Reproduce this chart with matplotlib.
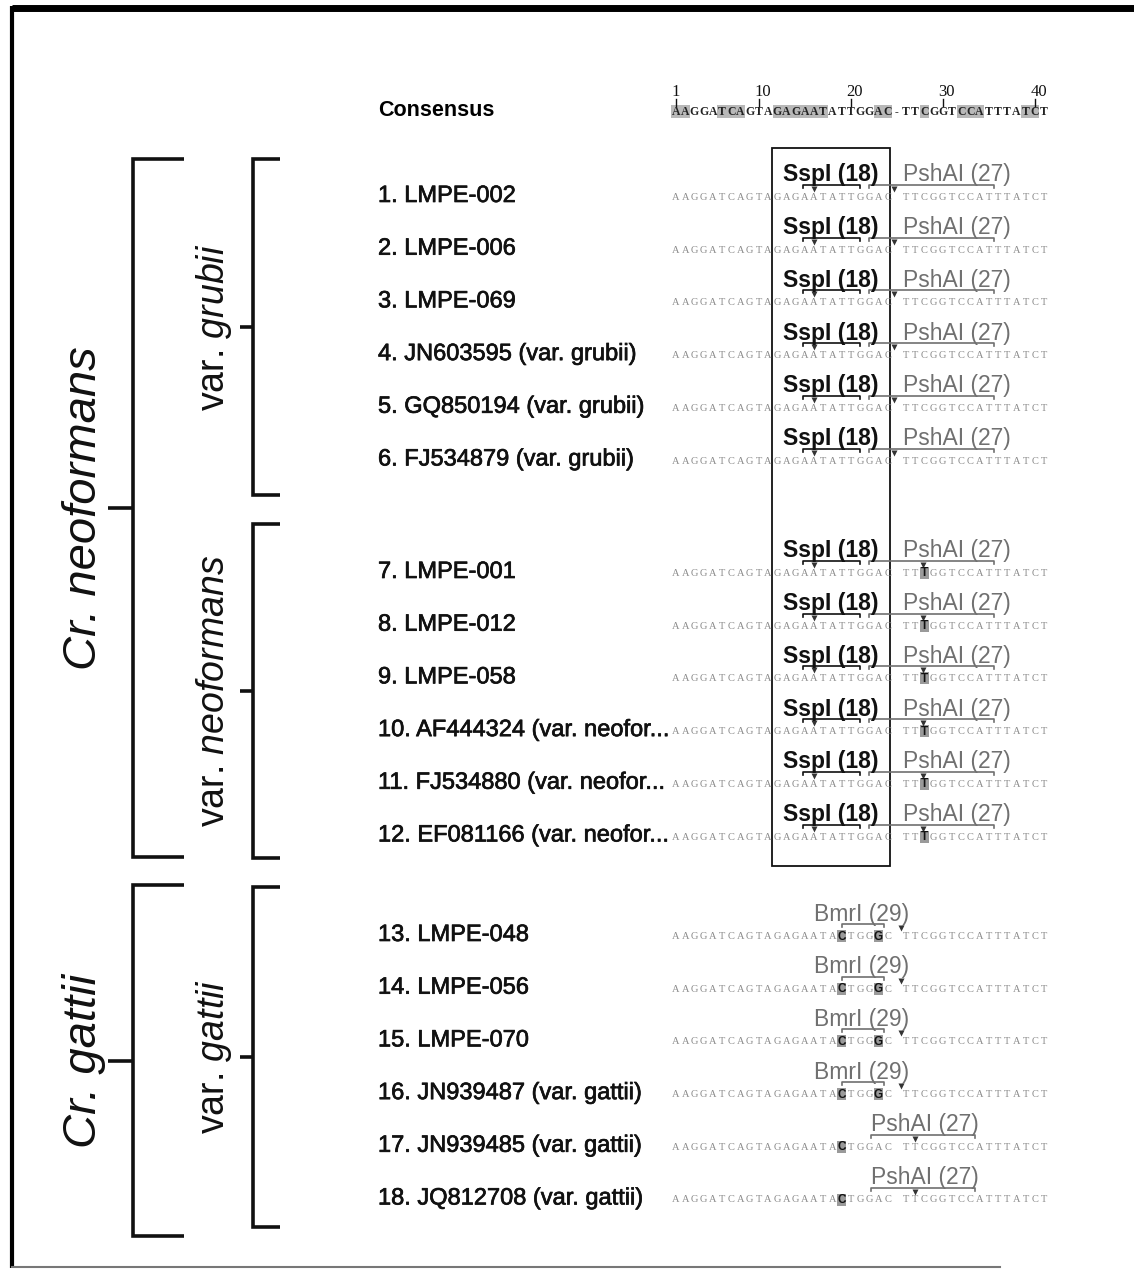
import matplotlib.pyplot as plt
import matplotlib.patheffects as pe
from matplotlib.patches import Rectangle

plt.rcParams['font.family'] = ['Liberation Sans', 'DejaVu Sans']
plt.rcParams['mathtext.fontset'] = 'custom'
plt.rcParams['mathtext.rm'] = 'Liberation Sans'
plt.rcParams['mathtext.it'] = 'Liberation Sans:italic'

# ---- data ----
consensus = "AAGGATCAGTAGAGAATATTGGAC-TTCGGTCCATTTATCT"
ruler_pos = [1, 10, 20, 30, 40]
cons_shaded = [0, 1, 5, 6, 7, 11, 12, 13, 14, 15, 16, 22, 23, 27, 31, 32, 33, 38, 39]

row_labels = ["1. LMPE-002", "2. LMPE-006", "3. LMPE-069",
              "4. JN603595 (var. grubii)", "5. GQ850194 (var. grubii)",
              "6. FJ534879 (var. grubii)",
              "7. LMPE-001", "8. LMPE-012", "9. LMPE-058",
              "10. AF444324 (var. neofor...", "11. FJ534880 (var. neofor...",
              "12. EF081166 (var. neofor...",
              "13. LMPE-048", "14. LMPE-056", "15. LMPE-070",
              "16. JN939487 (var. gattii)", "17. JN939485 (var. gattii)",
              "18. JQ812708 (var. gattii)"]
row_group = [0] * 6 + [1] * 6 + [2] * 6
# variant bases (index, base) highlighted in each row
row_variants = [[]] * 6 + [[(27, 'T')]] * 6 + [[(18, 'C'), (22, 'G')]] * 4 + [[(18, 'C')]] * 2
# enzyme sites: (label, bold, label centre idx, bracket start, bracket end) + cut idx
sspi = ("SspI (18)", True, 16.8, 13.8, 20.0)
pshai_a = ("PshAI (27)", False, 30.5, 21.0, 34.6)
bmri = ("BmrI (29)", False, 20.2, 18.0, 22.6)
pshai_b = ("PshAI (27)", False, 27.0, 21.2, 32.5)
row_sites = ([[sspi + (15.0,), pshai_a + (23.7,)]] * 6
             + [[sspi + (15.0,), pshai_a + (26.8,)]] * 6
             + [[bmri + (24.5,)]] * 4 + [[pshai_b + (26.0,)]] * 2)

species = [("Cr. neoformans", 159, 857), ("Cr. gattii", 885, 1236)]
varieties = [(r"var. $\mathit{grubii}$", 159, 495), (r"var. $\mathit{neoformans}$", 524, 858),
             (r"var. $\mathit{gattii}$", 887, 1227)]

# ---- layout ----
group_top = [196, 572, 935]
row_step = 52.7
x0, cw = 676, 9.2


def cx(i):
    return x0 + i * cw


thick = [pe.withStroke(linewidth=0.5, foreground='#111')]

fig = plt.figure(figsize=(11.34, 12.70), dpi=100)
ax = fig.add_axes([0, 0, 1, 1])
ax.set_xlim(0, 1134)
ax.set_ylim(1270, 0)
ax.axis('off')

# frame
ax.plot([12, 1134], [8, 8], color='black', lw=5, solid_capstyle='butt')
ax.plot([12, 12], [6, 1268], color='black', lw=3, solid_capstyle='butt')
ax.plot([12, 1000], [1267, 1267], color='#777777', lw=1.5)

# ruler + consensus
for p in ruler_pos:
    ax.text(cx(p - 1) + (4 if p > 1 else 0), 92, str(p), ha='center', va='center',
            fontsize=12, family='Liberation Serif', color='#111')
    ax.plot([cx(p - 1), cx(p - 1)], [99, 106], color='#111', lw=1)
ax.text(378, 111, "Consensus", ha='left', va='center', fontsize=15.5, fontweight='bold')
for i, ch in enumerate(consensus):
    if i in cons_shaded:
        ax.add_patch(Rectangle((cx(i) - cw / 2, 105), cw, 13, color='#b8b8b8', lw=0))
    ax.text(cx(i), 112, ch, ha='center', va='center', fontsize=8.5,
            family='Liberation Serif', fontweight='bold', color='#222')

# rows
for r, lab in enumerate(row_labels):
    g = row_group[r]
    y = group_top[g] + (r - 6 * g) * row_step
    ax.text(378, y, lab, ha='left', va='center', fontsize=17, color='#111',
            path_effects=thick)
    seq = list(consensus.replace('-', ' '))
    var_idx = []
    for i, b in row_variants[r]:
        seq[i] = b
        var_idx.append(i)
    for i, ch in enumerate(seq):
        if i in var_idx:
            ax.add_patch(Rectangle((cx(i) - cw / 2, y - 5), cw, 12, color='#9a9a9a', lw=0))
            ax.text(cx(i), y + 1.5, ch, ha='center', va='center', fontsize=8.5,
                    family='Liberation Sans', fontweight='bold', color='#111')
        else:
            ax.text(cx(i), y + 1.5, ch, ha='center', va='center', fontsize=7.5,
                    family='Liberation Serif', color='#8a8a8a')
    for name, bold, lc, b0, b1, cut in row_sites[r]:
        col = '#111' if bold else '#707070'
        ax.text(cx(lc), y - 21, name, ha='center', va='center', fontsize=16.5,
                fontweight='bold' if bold else 'normal', color=col)
        yb = y - 11
        ax.plot([cx(b0), cx(b0), cx(b1), cx(b1)], [yb + 3, yb, yb, yb + 3],
                color=col, lw=1.2)
        ax.plot(cx(cut), y - 7, marker='v', ms=5, color='#333', mec='none')

# box around SspI region
ax.add_patch(Rectangle((772, 148), 118, 718, fill=False, ec='#111', lw=1.3))

# brackets
bk = dict(color='#111', lw=2.6, solid_capstyle='butt', solid_joinstyle='miter')
for name, t, b in species:
    ax.plot([184, 133, 133, 184], [t, t, b, b], **bk)
    m = (t + b) / 2
    ax.plot([108, 133], [m, m], **bk)
    ax.text(84, m, name, rotation=90, ha='center', va='center', fontsize=34,
            style='italic', color='#111')
for name, t, b in varieties:
    ax.plot([280, 253, 253, 280], [t, t, b, b], **bk)
    m = (t + b) / 2
    ax.plot([240, 253], [m, m], **bk)
    ax.text(214, m, name, rotation=90, ha='center', va='center', fontsize=27,
            color='#111')

fig.savefig('out.png', dpi=100)
